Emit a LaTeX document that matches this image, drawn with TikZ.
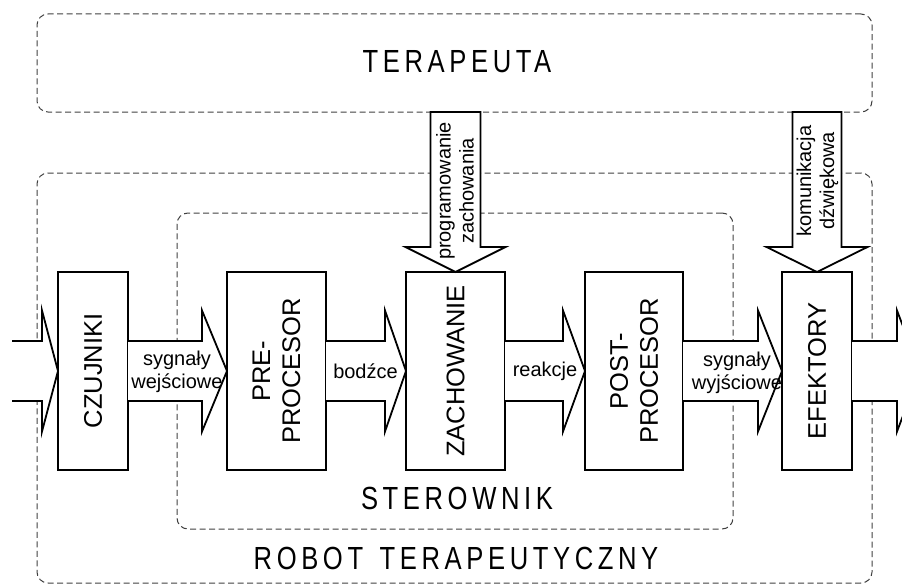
\documentclass[tikz,border=0pt]{standalone}
\usepackage{fontspec}
\setmainfont{Liberation Sans}
\usetikzlibrary{calc}
\newcommand{\fatright}[3]{\draw[fat] ($(#1)+(0,-30)$) -- ($(#2)+(-#3,-30)$) -- ($(#2)+(-#3,-60.5)$) -- (#2) -- ($(#2)+(-#3,60.5)$) -- ($(#2)+(-#3,30)$) -- ($(#1)+(0,30)$);}
\newcommand{\bigtitle}[1]{\scalebox{0.8}[1]{\addfontfeature{LetterSpace=18}#1}}
\begin{document}
\begin{tikzpicture}[x=1pt,y=-1pt,
  dbox/.style={draw=black!75, dash pattern=on 6pt off 3.5pt, line width=1pt, rounded corners=11pt, inner sep=0pt, outer sep=0pt},
  block/.style={draw, line width=2pt, fill=white, inner sep=0pt, outer sep=0pt, minimum height=198pt},
  fat/.style={draw, line width=1.8pt, fill=white, line join=miter, miter limit=10},
  blabel/.style={rotate=90, align=center, font=\fontsize{25.5}{30}\selectfont, inner sep=0pt},
  slabel/.style={align=center, font=\fontsize{20}{23}\selectfont, inner sep=0pt},
  big/.style={font=\fontsize{32}{36}\selectfont, inner sep=0pt}]
\useasboundingbox (0,0) rectangle (902,586);
% dashed frames
\node[dbox, minimum width=835pt, minimum height=98pt] (ter) at (454.5,63) {};
\node[dbox, minimum width=835pt, minimum height=410pt] (rob) at (454.5,378) {};
\node[dbox, minimum width=556pt, minimum height=316pt] (ster) at (455,371) {};
% frame titles
\node[big] (tl) at (457,62) {\bigtitle{TERAPEUTA}};
\node[big] (sl) at (457,498.5) {\bigtitle{STEROWNIK}};
\node[big] (rl) at (456,558) {\bigtitle{ROBOT\hspace{6pt} TERAPEUTYCZNY}};
% blocks
\node[block, minimum width=70pt] (cz) at (93,371) {};
\node[block, minimum width=99pt] (pre) at (276.5,371) {};
\node[block, minimum width=99pt] (zach) at (455.5,371) {};
\node[block, minimum width=98pt] (post) at (634,371) {};
\node[block, minimum width=70pt] (ef) at (817,371) {};
% free ends
\coordinate (in) at (12,371);
\coordinate (out) at (920,371);
% horizontal fat arrows
\fatright{in}{cz.west}{16}
\fatright{cz.east}{pre.west}{25}
\fatright{pre.east}{zach.west}{21}
\fatright{zach.east}{post.west}{22}
\fatright{post.east}{ef.west}{24}
\fatright{ef.east}{out}{23}
% vertical fat arrows
\coordinate (pa) at ($(zach.north)+(-25,0)$);
\coordinate (pb) at ($(zach.north)+(25,0)$);
\draw[fat] (pa |- ter.south) -- ($(pa)+(0,-25)$) -- ($(zach.north)+(-50,-25)$) -- (zach.north) -- ($(zach.north)+(50,-25)$) -- ($(pb)+(0,-25)$) -- (pb |- ter.south) -- cycle;
\coordinate (ka) at ($(ef.north)+(-24.5,0)$);
\coordinate (kb) at ($(ef.north)+(24.5,0)$);
\draw[fat] (ka |- ter.south) -- ($(ka)+(0,-25)$) -- ($(ef.north)+(-50.5,-25)$) -- (ef.north) -- ($(ef.north)+(50.5,-25)$) -- ($(kb)+(0,-25)$) -- (kb |- ter.south) -- cycle;
% block labels
\node[blabel] at (cz.center) {CZUJNIKI};
\node[blabel] at (pre.center) {PRE-\\PROCESOR};
\node[blabel] at (zach.center) {ZACHOWANIE};
\node[blabel] at (post.center) {POST-\\PROCESOR};
\node[blabel] at (ef.center) {EFEKTORY};
% arrow labels
\node[slabel] at (177,372) {sygnały\\wejściowe};
\node[slabel] at (365.5,371) {bodźce};
\node[slabel] at (545,371) {reakcje};
\node[slabel] at (737,373) {sygnały\\wyjściowe};
\node[slabel, rotate=90] at (455,191) {programowanie\\zachowania};
\node[slabel, rotate=90] at (817.5,181) {komunikacja\\dźwiękowa};
\end{tikzpicture}
\end{document}
